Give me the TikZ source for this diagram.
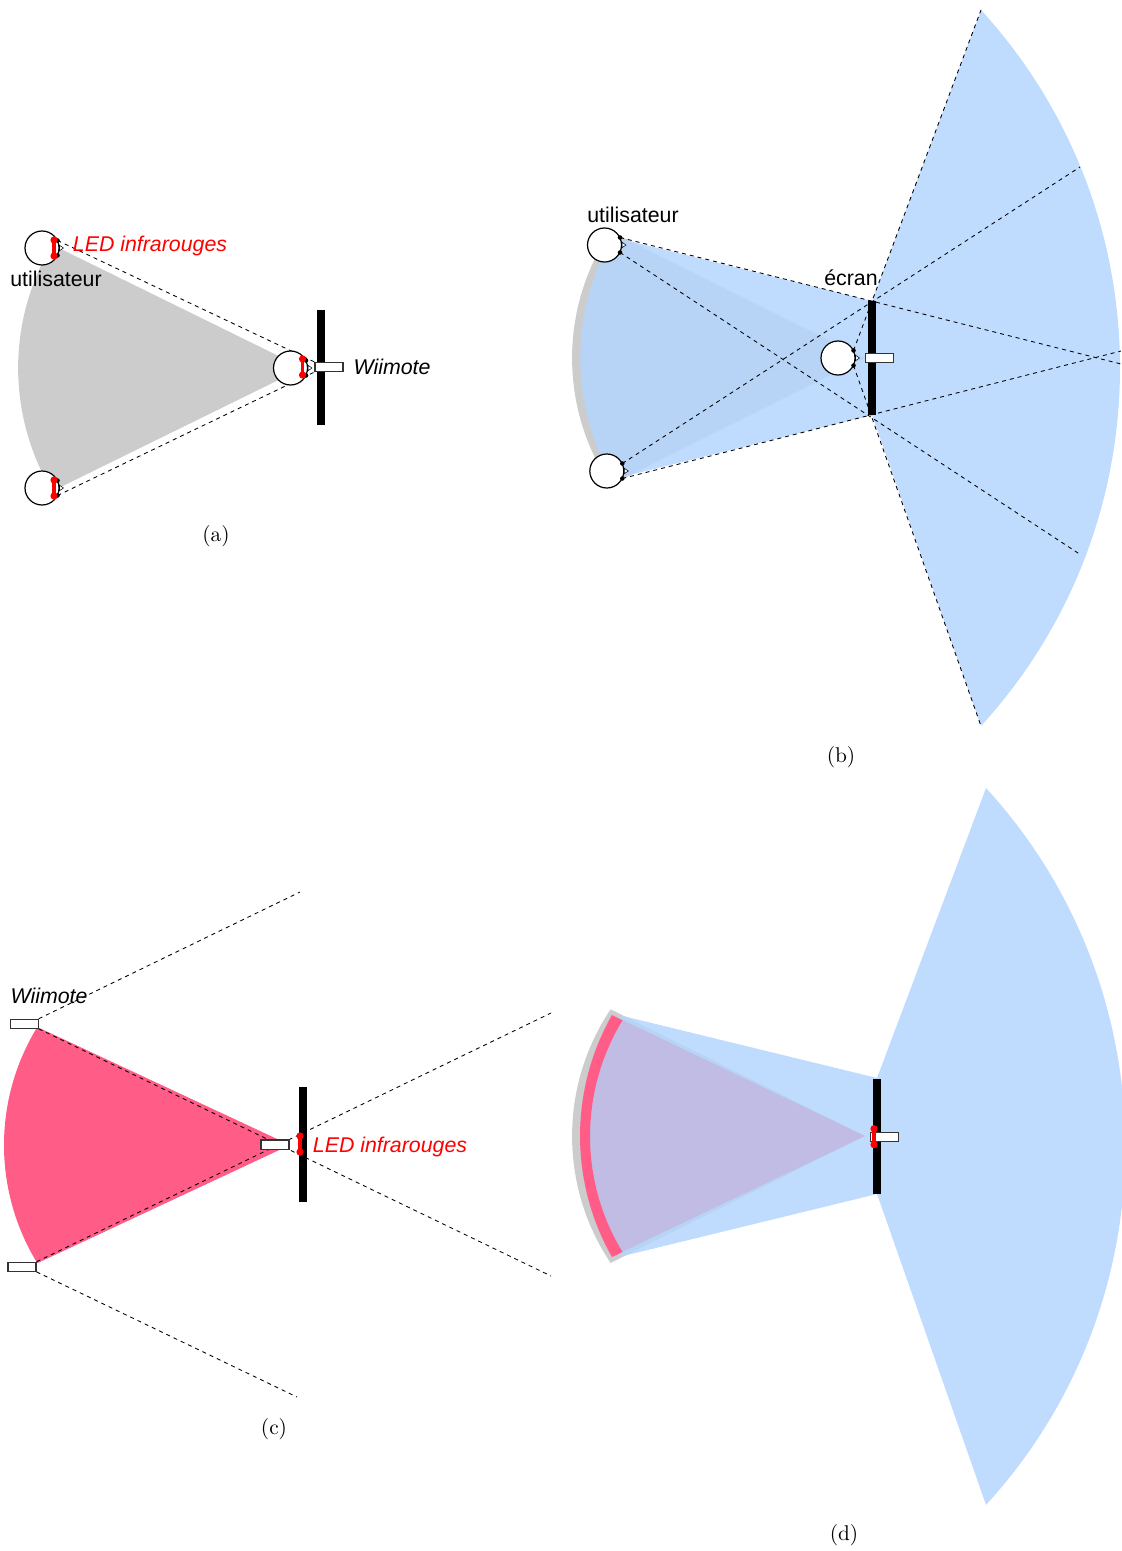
\documentclass[tikz,border=0pt]{standalone}
\usepackage{fontspec}
\setsansfont{Liberation Sans}
\newfontfamily\legendefont[Extension=.otf]{lmroman10-regular}
\usetikzlibrary{backgrounds}
\definecolor{zonegrise}{HTML}{CCCCCC}
\definecolor{zonebleue}{HTML}{B4D6FF}
\definecolor{zonerose}{HTML}{FF5C87}
\definecolor{zonemauve}{HTML}{C0BCE4}

\begin{document}
\begin{tikzpicture}[
    x=0.75pt, y=-0.75pt,
    crane/.style={
        circle, draw=black, fill=white, line width=0.9pt,
        minimum size=25.5pt, inner sep=0pt
    },
    pupille/.style={circle, fill=black, minimum size=3.4pt, inner sep=0pt},
    nez/.style={draw=black, fill=white, line width=0.4pt},
    ecran/.style={
        rectangle, fill=black, minimum width=5.6pt,
        minimum height=86pt, inner sep=0pt
    },
    wiimote/.style={
        rectangle, draw=black!80, fill=white, line width=0.8pt,
        minimum width=21pt, minimum height=6.8pt, inner sep=0pt
    },
    regard/.style={dashed, line width=0.65pt},
    etiquette/.style={font=\sffamily\fontsize{16}{19}\selectfont, inner sep=0pt},
    legende/.style={font=\legendefont\fontsize{16}{19}\selectfont, inner sep=0pt},
    tete/.pic={
        \node[crane] (-crane) at (0,0) {};
        \node[pupille] (-haut) at (15.5,-7.5) {};
        \node[pupille] (-bas) at (15.5,7.5) {};
        \draw[nez] (17.5,-2.7) -- (21.5,0) -- (17.5,2.7) -- cycle;
    },
    led/.pic={
        \draw[red, line width=2.3pt] (0,-8) -- (0,8);
        \fill[red] (0,-8) circle (3.6) (0,8) circle (3.6);
    }
]
\path[use as bounding box, clip] (0,0) rectangle (1121,1551);

% --- Vue (a) ---
\pic (ahaut) at (42,248) {tete};
\pic (abas) at (42,488) {tete};
\pic (aface) at (290.5,368) {tete};
\pic at (54,248) {led};
\pic at (54,488) {led};
\pic at (302.5,367) {led};
\node[ecran] (aecran) at (321.2,367.3) {};
\node[wiimote] (awii) at (329,367) {};
\node[etiquette, text=red] (aled) at (150,246) {\itshape LED infrarouges};
\node[etiquette] (anom) at (56,279) {utilisateur};
\node[etiquette] (awiinom) at (392,367) {\itshape Wiimote};
\node[legende] (acap) at (216,536) {(a)};
\begin{scope}[on background layer]
    \fill[zonegrise] (303,368) -- (52.2,244.7)
        arc[start angle=210.9, end angle=149.1, radius=240] -- cycle;
    \draw[regard] (ahaut-haut.center) -- (awii.north west);
    \draw[regard] (abas-bas.center) -- (awii.south west);
\end{scope}

% --- Vue (b) ---
\pic (bhaut) at (604.5,245) {tete};
\pic (bbas) at (606.8,471) {tete};
\pic (bface) at (838,358) {tete};
\node[ecran] (becran) at (872,358) {};
\node[wiimote] (bwii) at (879.5,358.3) {};
\coordinate (bfinA) at (981,10);
\coordinate (bfinB) at (1080,167);
\coordinate (bfinC) at (1121,364);
\coordinate (bfinD) at (1121,351);
\coordinate (bfinE) at (1081,555);
\coordinate (bfinF) at (981,726);
\node[etiquette] (bnom) at (633,215) {utilisateur};
\node[etiquette] (becr) at (851,278) {écran};
\node[legende] (bcap) at (841,757) {(b)};
\begin{scope}[on background layer]
    \fill[zonegrise] (865,358) -- (610.6,231.3)
        arc[start angle=213.8, end angle=146.2, radius=228] -- cycle;
    \fill[zonebleue, opacity=0.85] (872,301) -- (613,237)
        arc[start angle=210.3, end angle=149.7, radius=240] -- (872,415) -- cycle;
    \fill[zonebleue, opacity=0.85] (872,301) -- (981,10)
        arc[start angle=-42.44, end angle=42.44, radius=530.5] -- (872,415) -- cycle;
    \draw[regard] (bface-haut.center) -- (bfinA);
    \draw[regard] (bface-bas.center) -- (bfinF);
    \draw[regard] (bhaut-haut.center) -- (bfinC);
    \draw[regard] (bhaut-bas.center) -- (bfinE);
    \draw[regard] (bbas-haut.center) -- (bfinB);
    \draw[regard] (bbas-bas.center) -- (bfinD);
\end{scope}

% --- Vue (c) ---
\node[ecran] (cecran) at (303,1144.8) {};
\node[wiimote] (cwiihaut) at (24.2,1023.8) {};
\node[wiimote] (cwiibas) at (22,1266.8) {};
\node[wiimote] (cwiiface) at (275,1144.5) {};
\pic at (300,1144) {led};
\coordinate (cfinA) at (300,892);
\coordinate (cfinB) at (551,1276);
\coordinate (cfinC) at (551,1013);
\coordinate (cfinD) at (297,1397);
\node[etiquette] (cnom) at (49,996) {\itshape Wiimote};
\node[etiquette, text=red] (cled) at (390,1146.5) {\itshape LED infrarouges};
\node[legende] (ccap) at (274,1429) {(c)};
\begin{scope}[on background layer]
    \fill[zonerose] (290,1145) -- (37.3,1027)
        arc[start angle=211.5, end angle=148.5, radius=226] -- cycle;
    \draw[regard] (cwiihaut.north east) -- (cfinA);
    \draw[regard] (cwiihaut.south east) -- (cfinB);
    \draw[regard] (cwiibas.north east) -- (cfinC);
    \draw[regard] (cwiibas.south east) -- (cfinD);
\end{scope}

% --- Vue (d) ---
\node[ecran] (decran) at (877,1136.8) {};
\node[wiimote] (dwii) at (884.2,1136.8) {};
\pic at (874,1136.7) {led};
\node[legende] (dcap) at (844,1535) {(d)};
\begin{scope}[on background layer]
    \fill[zonegrise] (865,1136) -- (610.6,1009.3)
        arc[start angle=213.8, end angle=146.2, radius=228] -- cycle;
    \fill[zonebleue, opacity=0.85] (877,1078) -- (623,1016) -- (609,1022)
        arc[start angle=208.4, end angle=151.6, radius=240]
        -- (623,1256) -- (877,1194) -- cycle;
    \fill[zonebleue, opacity=0.85] (877,1078) -- (986,788)
        arc[start angle=-42.48, end angle=42.48, radius=530.8] -- (877,1194) -- cycle;
    \fill[zonemauve] (865,1136) -- (622.5,1020)
        arc[start angle=211.3, end angle=148.7, radius=223] -- cycle;
    \fill[zonerose] (612,1015)
        arc[start angle=209.6, end angle=150.4, radius=245]
        -- (622.5,1252)
        arc[start angle=148.7, end angle=211.3, radius=223] -- cycle;
\end{scope}
\end{tikzpicture}
\end{document}
